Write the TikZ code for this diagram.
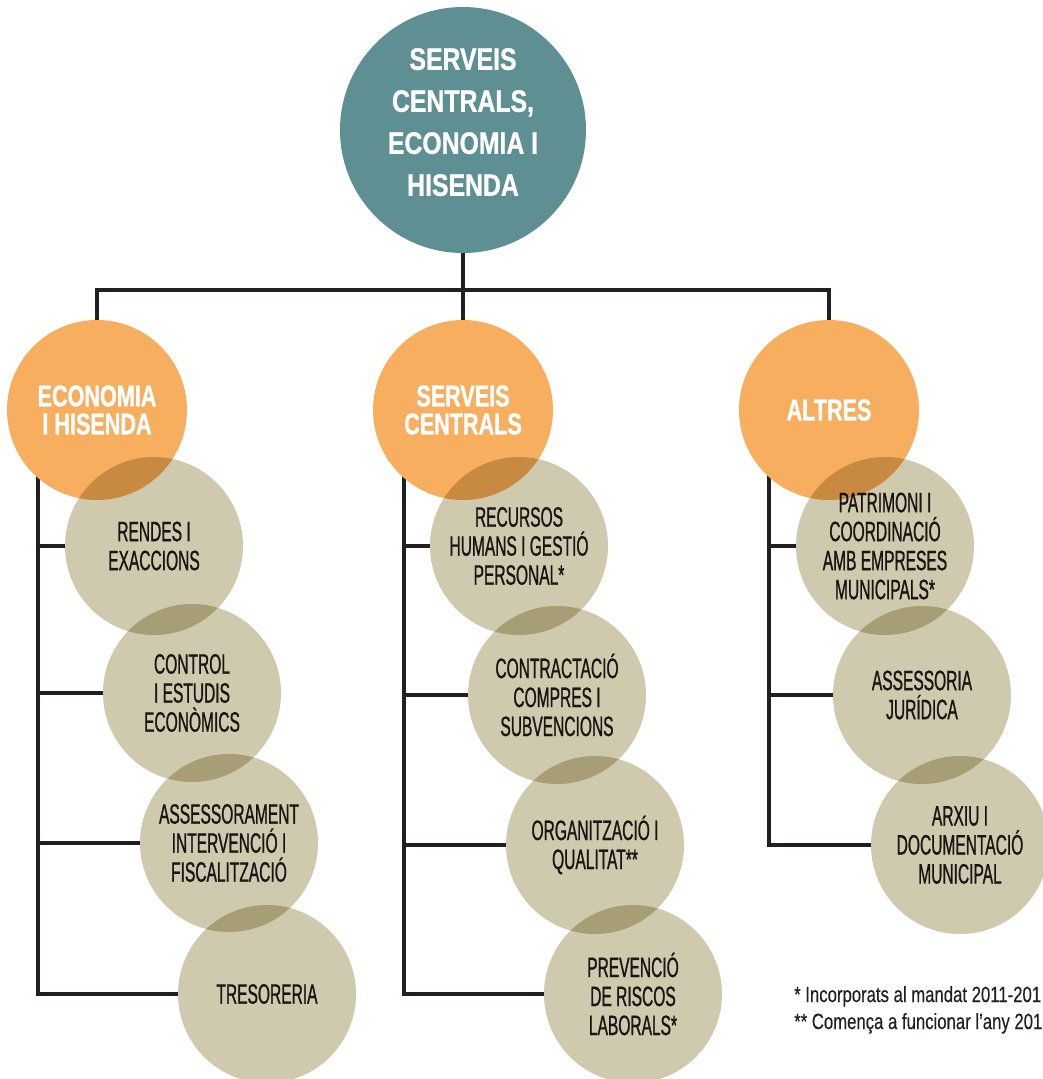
\documentclass[tikz,border=0pt]{standalone}
\usepackage{fontspec}
\setmainfont[FakeStretch=0.555, FakeBold=0.8]{Liberation Sans}
\newfontfamily\orgfont[FakeStretch=0.72, FakeBold=1]{Liberation Sans}
\newfontfamily\topfont[FakeStretch=0.8, FakeBold=1]{Liberation Sans}
\newfontfamily\notefont[FakeStretch=0.76, FakeBold=0.3]{Liberation Sans}
\usetikzlibrary{backgrounds}
\definecolor{topteal}{HTML}{5E8F92}
\definecolor{orgorange}{HTML}{F7AF5F}
\definecolor{unitbeige}{HTML}{CFC9AE}
\definecolor{inkdark}{HTML}{231F20}
\begin{document}
\begin{tikzpicture}[x=1pt, y=-1pt,
    topc/.style={circle, fill=topteal, minimum size=246pt, inner sep=0pt, text depth=16pt,
      text=white, align=center, font=\topfont\bfseries\fontsize{31}{42}\selectfont},
    orgc/.style={circle, fill=orgorange, minimum size=180pt, inner sep=0pt,
      text=white, align=center, font=\orgfont\bfseries\fontsize{30}{28}\selectfont},
    unitc/.style={circle, fill=unitbeige, minimum size=178pt, inner sep=0pt,
      text=inkdark, align=center, font=\fontsize{28}{29}\selectfont},
    link/.style={draw=inkdark, line width=4pt},
    note/.style={anchor=base west, inner sep=0pt, text=inkdark,
      font=\notefont\fontsize{22}{24}\selectfont}]
  \useasboundingbox (0, 0) rectangle (1043, 1079);
  % top and area circles
  \node[topc] (servcent) at (463, 130) {SERVEIS\\CENTRALS,\\ECONOMIA I\\HISENDA};
  \node[orgc] (eco) at (97, 410) {ECONOMIA\\I HISENDA};
  \node[orgc] (serv) at (463, 410) {SERVEIS\\CENTRALS};
  \node[orgc] (altres) at (829, 410) {ALTRES};
  % units
  \begin{scope}[blend mode=multiply]
    \node[unitc] (rendes) at (154, 546) {RENDES I\\EXACCIONS};
    \node[unitc] (control) at (192, 693) {CONTROL\\I ESTUDIS\\ECONÒMICS};
    \node[unitc] (assess) at (229, 843) {ASSESSORAMENT\\INTERVENCIÓ I\\FISCALITZACIÓ};
    \node[unitc] (treso) at (267, 994) {TRESORERIA};
    \node[unitc] (recursos) at (519, 546) {RECURSOS\\HUMANS I GESTIÓ\\PERSONAL*};
    \node[unitc] (contract) at (557, 695) {CONTRACTACIÓ\\COMPRES I\\SUBVENCIONS};
    \node[unitc] (organ) at (595, 845) {ORGANITZACIÓ I\\QUALITAT**};
    \node[unitc] (prev) at (633, 994) {PREVENCIÓ\\DE RISCOS\\LABORALS*};
    \node[unitc] (patrim) at (885, 546) {PATRIMONI I\\COORDINACIÓ\\AMB EMPRESES\\MUNICIPALS*};
    \node[unitc] (jurid) at (922, 695) {ASSESSORIA\\JURÍDICA};
    \node[unitc] (arxiu) at (960, 845) {ARXIU I\\DOCUMENTACIÓ\\MUNICIPAL};
  \end{scope}
  % notes
  \node[note] (note1) at (794, 1002) {* Incorporats al mandat 2011-201};
  \node[note] (note2) at (794, 1029) {** Comença a funcionar l’any 201};
  % connectors
  \coordinate (hub) at (463, 290);
  \coordinate (ecobar) at (38, 410);
  \coordinate (servbar) at (404, 410);
  \coordinate (altbar) at (769, 410);
  \begin{pgfonlayer}{background}
    \fill[white] (0, 0) rectangle (1043, 1079);
    \draw[link] (servcent) -- (hub);
    \draw[link] (eco.center) -- (eco.center |- hub) -- (altres.center |- hub) -- (altres.center);
    \draw[link] (serv.center) -- (hub);
    \draw[link] (ecobar) -- (ecobar |- treso.west) -- (treso.west);
    \draw[link] (ecobar |- rendes.west) -- (rendes.west);
    \draw[link] (ecobar |- control.west) -- (control.west);
    \draw[link] (ecobar |- assess.west) -- (assess.west);
    \draw[link] (servbar) -- (servbar |- prev.west) -- (prev.west);
    \draw[link] (servbar |- recursos.west) -- (recursos.west);
    \draw[link] (servbar |- contract.west) -- (contract.west);
    \draw[link] (servbar |- organ.west) -- (organ.west);
    \draw[link] (altbar) -- (altbar |- arxiu.west) -- (arxiu.west);
    \draw[link] (altbar |- patrim.west) -- (patrim.west);
    \draw[link] (altbar |- jurid.west) -- (jurid.west);
  \end{pgfonlayer}
\end{tikzpicture}
\end{document}
